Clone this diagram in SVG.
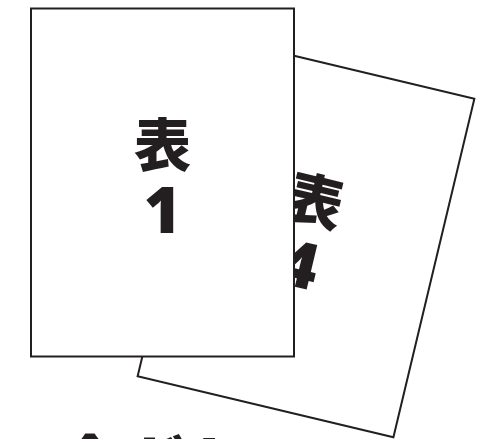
<svg xmlns="http://www.w3.org/2000/svg" width="479" height="439" viewBox="0 0 479 439">
<style>
.page{fill:#fff;stroke:#231f20;stroke-width:2}
.big{font-family:"Noto Sans CJK JP","Noto Sans",sans-serif;font-weight:900;fill:#231f20;text-anchor:middle}
.kan{font-size:57px}
.num{font-family:"Noto Sans","DejaVu Sans",sans-serif;font-size:64px}
.cut{font-family:"Noto Sans CJK JP",sans-serif;font-weight:900;font-size:63px;fill:#231f20}
</style>
<rect width="479" height="439" fill="#fff"/>
<g id="back-page" transform="translate(306,237.5) rotate(13.45)">
<rect class="page" x="-131.5" y="-174" width="263" height="348"/>
<text class="big kan" x="0" y="-16.5">表</text>
<text class="big num" x="0" y="50.5">4</text>
</g>
<g id="front-page" transform="translate(162.5,182.5)">
<rect class="page" x="-131.5" y="-174" width="263" height="348"/>
<text class="big kan" x="0" y="-16.5">表</text>
<text class="big num" x="0" y="50.5">1</text>
</g>
<g id="caption">
<text class="cut" x="-4" y="488">ア今ガトン</text>
</g>
</svg>
